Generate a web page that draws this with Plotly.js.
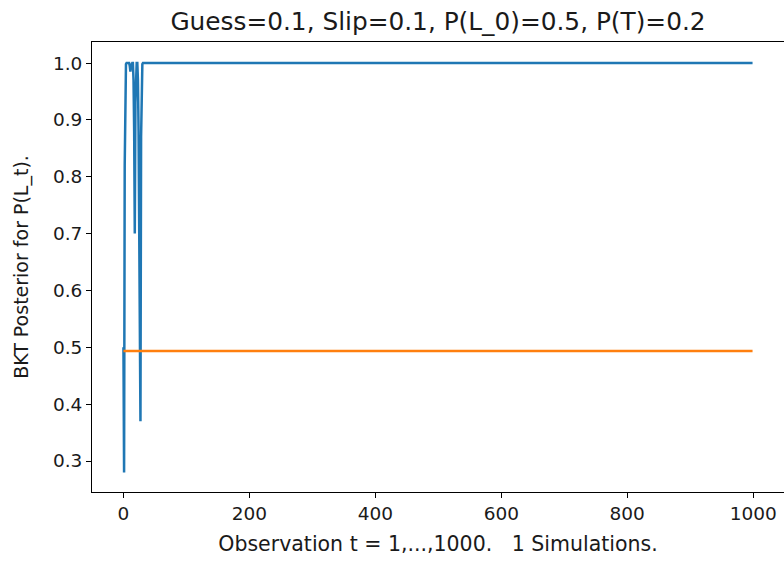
<!DOCTYPE html>
<html>
<head>
<meta charset="utf-8">
<script src="https://cdn.plot.ly/plotly-3.0.1.min.js"></script>
<style>html,body{margin:0;padding:0;background:#fff;}#chart{width:784px;height:561px;}</style>
</head>
<body>
<div id="chart"></div>
<script>
// Observation index (sparse: after t=31 the posterior stays flat at 1.0 until t=999)
const tBlue = [0,1,2,3,4,5,6,7,8,9,10,11,12,13,14,15,16,17,18,19,20,21,22,23,24,25,26,27,28,29,30,31,999];
// BKT posterior P(L_t)
const pBlue = [0.5,0.28,0.82,0.98,0.998,1.0,1.0,1.0,1.0,1.0,0.995,0.985,0.995,1.0,1.0,1.0,0.97,0.88,0.70,0.93,0.99,1.0,1.0,0.97,0.88,0.72,0.55,0.37,0.87,0.985,0.998,1.0,1.0];
// Orange reference line
const tOrange = [0,999];
const pOrange = [0.4935,0.4935];

const xTicks = [0,200,400,600,800,1000];
const yTicks = [0.3,0.4,0.5,0.6,0.7,0.8,0.9,1.0];
const yTickText = ['0.3','0.4','0.5','0.6','0.7','0.8','0.9','1.0'];

const titleText = 'Guess=0.1, Slip=0.1, P(L_0)=0.5, P(T)=0.2';
const xLabel = 'Observation t = 1,...,1000.   1 Simulations.';
const yLabel = 'BKT Posterior for P(L_t).';

const font = 'DejaVu Sans, sans-serif';
const txt = '#1a1a1a';

const traces = [
  {x: tBlue, y: pBlue, type: 'scatter', mode: 'lines', line: {color: '#1f77b4', width: 2.5}, showlegend: false},
  {x: tOrange, y: pOrange, type: 'scatter', mode: 'lines', line: {color: '#ff7f0e', width: 2.5}, showlegend: false}
];

const layout = {
  width: 784, height: 561,
  paper_bgcolor: '#fff', plot_bgcolor: '#fff',
  margin: {l: 92, r: 0, t: 42, b: 69, pad: 0},
  font: {family: font, color: txt, size: 19},
  title: {text: titleText, x: 0.5, xref: 'paper', xanchor: 'center', y: 1 - 21/561, yref: 'container', yanchor: 'middle', font: {family: font, size: 24.8, color: txt}},
  xaxis: {
    range: [-49.95, 1048.95], tickvals: xTicks, ticktext: xTicks.map(String),
    ticks: 'outside', ticklen: 5, tickwidth: 1, tickcolor: '#000',
    showline: true, linecolor: '#000', linewidth: 1, mirror: true,
    showgrid: false, zeroline: false,
    tickfont: {family: font, size: 18.5, color: txt},
    title: {text: xLabel, font: {family: font, size: 20.5, color: txt}, standoff: 13}
  },
  yaxis: {
    range: [0.2455, 1.037], tickvals: yTicks, ticktext: yTickText,
    ticks: 'outside', ticklen: 5, tickwidth: 1, tickcolor: '#000',
    showline: true, linecolor: '#000', linewidth: 1, mirror: true,
    showgrid: false, zeroline: false,
    tickfont: {family: font, size: 18.5, color: txt},
    title: {text: yLabel, font: {family: font, size: 19, color: txt}, standoff: 19}
  }
};

Plotly.newPlot('chart', traces, layout, {displayModeBar: false, staticPlot: true});
</script>
</body>
</html>
